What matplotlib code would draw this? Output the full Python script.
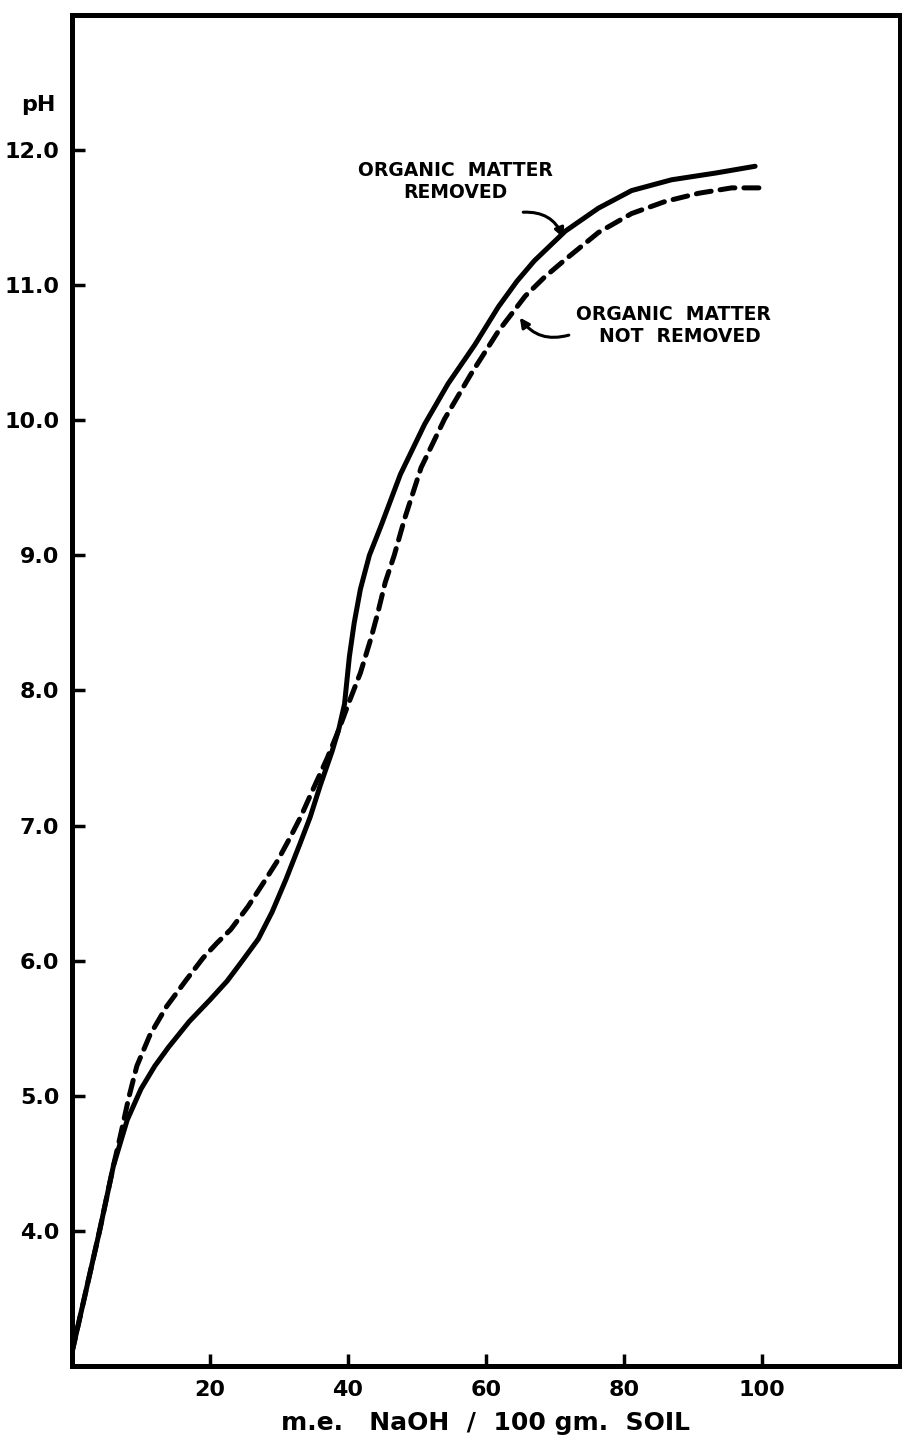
import matplotlib
matplotlib.use("Agg")
import matplotlib.pyplot as plt

# ---- data (m.e. NaOH / 100 gm soil, pH) ----
removed_x = [0, 2, 4, 6, 8, 10, 12, 14, 17, 20, 22.5, 24.7, 27, 29, 31, 33,
             34.5, 36, 37.7, 38.7, 39.5, 40.2, 40.9, 41.8, 43.1, 44.8, 47.6,
             51.1, 54.5, 58.4, 61.8, 64.5, 67, 71.5, 76.3, 81.1, 86.9, 93.3, 99]
removed_ph = [3.1, 3.55, 4.0, 4.48, 4.82, 5.05, 5.22, 5.36, 5.55, 5.71, 5.85,
              6.0, 6.16, 6.36, 6.6, 6.86, 7.06, 7.3, 7.55, 7.72, 7.9, 8.25,
              8.5, 8.75, 9.0, 9.22, 9.6, 9.97, 10.27, 10.56, 10.84, 11.03,
              11.18, 11.4, 11.57, 11.7, 11.78, 11.83, 11.88]

kept_x = [0, 2, 4, 6, 7.0, 8.2, 9.4, 11.3, 13.7, 16.6, 19, 21, 23, 25.5, 27.8,
          29.8, 31.7, 33.2, 34.6, 37, 38.6, 40.2, 41.8, 43.3, 44.3, 45.4,
          46.7, 48.2, 50.6, 54, 57.8, 61.8, 65.7, 68.5, 71.5, 76.3, 81.1, 86,
          90.8, 95.6, 100.5]
kept_ph = [3.1, 3.55, 4.0, 4.48, 4.7, 4.98, 5.22, 5.45, 5.66, 5.86, 6.02,
           6.13, 6.23, 6.4, 6.58, 6.74, 6.92, 7.07, 7.23, 7.5, 7.7, 7.92, 8.13,
           8.38, 8.57, 8.8, 9.0, 9.27, 9.65, 10.01, 10.34, 10.66, 10.92, 11.06,
           11.19, 11.39, 11.53, 11.62, 11.68, 11.72, 11.72]

x_ticks = [20, 40, 60, 80, 100]
y_ticks = [4.0, 5.0, 6.0, 7.0, 8.0, 9.0, 10.0, 11.0, 12.0]

INK = "black"
plt.rcParams["font.family"] = ["DejaVu Sans"]

fig = plt.figure(figsize=(9.03, 14.51), dpi=100)
fig.patch.set_facecolor("white")
ax = fig.add_axes([0.0797, 0.0586, 0.9170, 0.9311])
ax.set_xlim(0, 120)
ax.set_ylim(3.0, 13.0)

ax.plot(kept_x, kept_ph, color=INK, lw=3.6, linestyle=(0, (3.0, 1.8)),
        dash_capstyle="round", zorder=3)
ax.plot(removed_x, removed_ph, color=INK, lw=3.6, solid_capstyle="round",
        solid_joinstyle="round", zorder=4)

for s in ax.spines.values():
    s.set_linewidth(3.6)
    s.set_color(INK)

ax.set_xticks(x_ticks)
ax.set_xticklabels([str(v) for v in x_ticks])
ax.set_yticks(y_ticks)
ax.set_yticklabels([f"{v:.1f}" for v in y_ticks])
ax.tick_params(axis="both", direction="in", length=9, width=2.5,
               labelsize=16, colors=INK)
ax.tick_params(axis="x", pad=10)
ax.tick_params(axis="y", pad=9)
for lab in ax.get_xticklabels() + ax.get_yticklabels():
    lab.set_fontweight("bold")

ax.set_xlabel("m.e.   NaOH  /  100 gm.  SOIL", fontsize=18, fontweight="bold",
              labelpad=8)
ax.text(-4.9, 12.33, "pH", fontsize=16, fontweight="bold", ha="center",
        va="center", clip_on=False)

# ---- curve labels with curved arrows ----
ax.text(55.6, 11.765, "ORGANIC  MATTER\nREMOVED", fontsize=13.5,
        fontweight="bold", ha="center", va="center", linespacing=1.2)
ax.annotate("", xy=(71.2, 11.35), xytext=(65.4, 11.54),
            arrowprops=dict(arrowstyle="-|>", color=INK, lw=2.2,
                            mutation_scale=14, shrinkA=0, shrinkB=0,
                            connectionstyle="arc3,rad=-0.35"))

ax.text(87.2, 10.70, "ORGANIC  MATTER\n  NOT  REMOVED", fontsize=13.5,
        fontweight="bold", ha="center", va="center", linespacing=1.2)
ax.annotate("", xy=(64.9, 10.76), xytext=(72.0, 10.63),
            arrowprops=dict(arrowstyle="-|>", color=INK, lw=2.2,
                            mutation_scale=14, shrinkA=0, shrinkB=0,
                            connectionstyle="arc3,rad=-0.35"))

fig.savefig("out.png", dpi=100, facecolor="white")
